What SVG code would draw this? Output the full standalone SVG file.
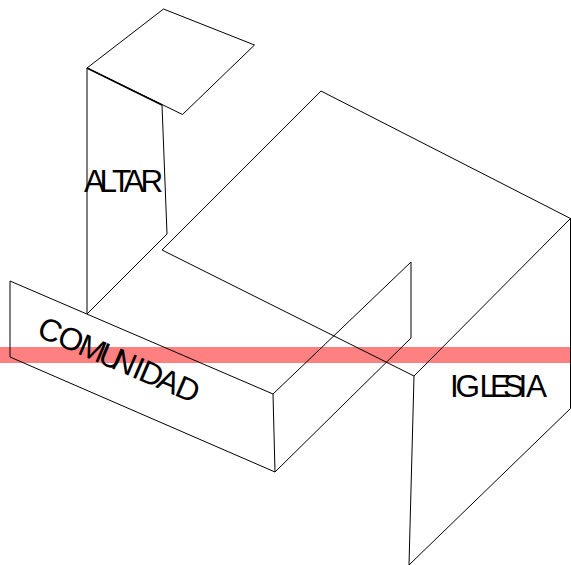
<svg xmlns="http://www.w3.org/2000/svg" width="571" height="565" viewBox="0 0 571 565">
<style>
.l{fill:none;stroke:#000;stroke-width:1}
.t{font-family:"Liberation Sans",Arial,sans-serif;font-size:31.5px;fill:#000;font-kerning:none}
</style>
<rect width="571" height="565" fill="#fff"/>
<rect id="band" x="0" y="347" width="571" height="16" fill="#ff8080"/>
<g id="connectors">
<path class="l" d="M87 68L163.500 9L254.500 45L182.500 114.500L87 68"/>
<path class="l" d="M87 68L162 105" style="stroke-width:1.6"/>
<path class="l" d="M87 68V314L167 234L162 105"/>
<path class="l" d="M162 250L321 91L570.500 218.500L414 376L162 250"/>
<path class="l" d="M414 376L409 565L570.500 408.500V218"/>
<path class="l" d="M10 281L273 394L275 472L10 357V281"/>
<path class="l" d="M273 394L411 262V338L275 472"/>
</g>
<g id="altar"><text class="t" y="192" x="84 99.500 112 123.500 140.500">ALTAR</text></g>
<g id="iglesia"><text class="t" y="397" x="450 455.500 479.500 490 503 518.500 526">IGLESIA</text></g>
<g id="comunidad"><text class="t" transform="translate(35.4 335.7) rotate(23.2)" x="0 22 44.5 66.500 81 103.500 110.500 130 150" y="0">COMUNIDAD</text></g>
</svg>
